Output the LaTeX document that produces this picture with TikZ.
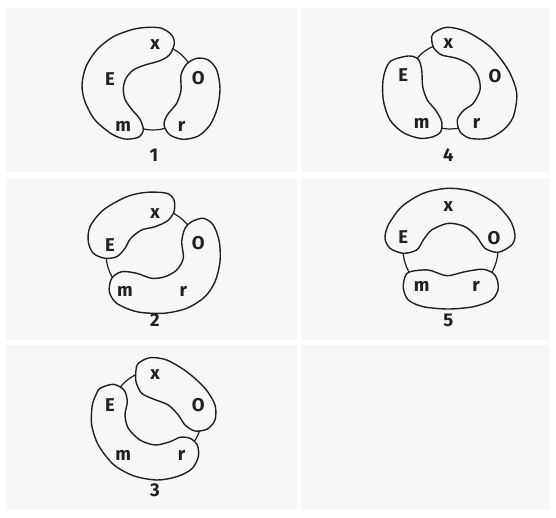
\documentclass[tikz,border=0pt]{standalone}
\usepackage{fontspec}
\setmainfont{Fira Sans}
\definecolor{ink}{HTML}{202020}
\definecolor{paper}{HTML}{F7F7F7}
\begin{document}
\begin{tikzpicture}[x=1pt,y=-1pt,
  blob/.style={draw=ink, fill=paper, line width=1.4pt, line join=round},
  ring/.style={draw=ink, line width=1.2pt},
  lab/.style={font=\fontsize{18.5}{18.5}\selectfont\bfseries, text=ink, inner sep=0pt},
  num/.style={font=\fontsize{18.5}{18.5}\selectfont\bfseries, text=ink, inner sep=0pt}]
\useasboundingbox (0,0) rectangle (556,518);
\fill[white] (0,0) rectangle (556,518);
% faint panels
\fill[paper] (6,8) rectangle (297,172);
\fill[paper] (301,8) rectangle (550,172);
\fill[paper] (6,178) rectangle (297,340);
\fill[paper] (301,178) rectangle (550,340);
\fill[paper] (6,345) rectangle (297,510);
\fill[paper] (301,345) rectangle (550,510);

% ---------- Diagram 1 ----------
\draw[ring] (153,87) circle[radius=43];
\draw[blob] plot[smooth cycle] coordinates {
 (161.7,28.3) (171.7,35) (174.3,44) (169.3,55) (160,60.7) (145,65) (133.3,70)
 (126,78.3) (123.3,88.3) (125,99.3) (131.7,109.3) (140,119.3) (143.3,130)
 (138.3,137.3) (125,139) (111.7,134) (95,120) (85,101.7) (82,85) (86,66.7)
 (96.7,50) (113.3,36.7) (133.3,29.3) (148.3,27.3)};
\draw[blob] plot[smooth cycle] coordinates {
 (186.7,64) (196.7,58.3) (208.3,60) (216.7,70) (220,88.3) (217.3,108.3)
 (210,125) (198.3,136) (183.3,139.3) (170,135) (164,125) (167.3,115)
 (176.7,103.3) (181,90) (181,75)};
\node[lab] (x1) at (155,45) {x};
\node[lab] (E1) at (110,79.3) {E};
\node[lab] (O1) at (198.3,78.3) {O};
\node[lab] (m1) at (123.3,126) {m};
\node[lab] (r1) at (181.7,126) {r};
\node[num] (n1) at (154,155) {1};

% ---------- Diagram 4 ----------
\draw[ring] (450,86) circle[radius=43];
\draw[blob] plot[smooth cycle] coordinates {
 (390,61.7) (408.3,56) (418.3,59.3) (421.7,70) (422.7,86.7) (427.3,100)
 (436,110.7) (441.7,121.7) (440.7,131.7) (433.3,136.7) (420,138.3)
 (403.3,132.7) (390,120) (383.3,100) (383.3,78.3)};
\draw[blob] plot[smooth cycle] coordinates {
 (433.3,33.3) (446.7,27.3) (466.7,31.7) (490,46.7) (508.3,70) (516.7,93.3)
 (513.3,116.7) (503.3,130) (488.3,138.3) (470,138.3) (460,131.7) (457.3,120)
 (463.3,110.7) (473.3,103.3) (480,90) (478.3,76.7) (470,65) (456.7,58.3)
 (441.7,55) (434,48.3) (431.7,40)};
\node[lab] (x4) at (448.3,44) {x};
\node[lab] (E4) at (403.3,75) {E};
\node[lab] (O4) at (495,76) {O};
\node[lab] (m4) at (421.7,123.3) {m};
\node[lab] (r4) at (476.7,123.3) {r};
\node[num] (n4) at (448.3,155) {4};

% ---------- Diagram 2 ----------
\draw[ring] (152,254) circle[radius=46];
\draw[blob] plot[smooth cycle] coordinates {
 (166.7,193.3) (146.7,192.3) (126.7,196.7) (103.3,210) (90,226.7) (88.3,241.7)
 (93.3,253.3) (105,258.3) (116.7,256.7) (125,248.3) (130.7,238.3) (141.7,230)
 (155,226.7) (167.3,221) (174,211.7) (174,200)};
\draw[blob] plot[smooth cycle] coordinates {
 (191.7,221.7) (203.3,218.3) (213.3,225) (219.3,241.7) (220,261.7) (215,281.7)
 (205,296.7) (186.7,308.3) (163.3,313.3) (136.7,311.7) (116.7,303.3)
 (109.3,291.7) (111.7,278.3) (121.7,271.7) (136.7,273.3) (151.7,278.3)
 (165,276.7) (176.7,270) (183.3,258.3) (181.7,241.7) (185,228.3)};
\node[lab] (x2) at (155,213.3) {x};
\node[lab] (E2) at (110,245) {E};
\node[lab] (O2) at (198.3,243.3) {O};
\node[lab] (m2) at (125,291.7) {m};
\node[lab] (r2) at (183.3,291.7) {r};
\node[num] (n2) at (155,320) {2};

% ---------- Diagram 5 ----------
\draw[ring] (450.5,249) circle[radius=47.5];
\draw[blob] plot[smooth cycle] coordinates {
 (448.3,188.3) (423.3,193.3) (401.7,206.7) (388.3,225) (385,238.3) (390,248.3)
 (403.3,253.3) (416.7,250) (423.3,240) (431.7,230) (448.3,223.3) (465,226.7)
 (476.7,236.7) (485,248.3) (498.3,252.3) (511.7,245) (515,235) (510,220)
 (495,203.3) (473.3,191.7)};
\draw[blob] plot[smooth cycle] coordinates {
 (410,271.7) (428.3,270) (446.7,275.7) (465,271.7) (483.3,269.3) (495,275)
 (498.3,288.3) (491.7,300) (473.3,306.7) (448.3,309) (423.3,306.7)
 (408.3,300) (403.3,288.3) (405,276.7)};
\node[lab] (x5) at (448.3,206.7) {x};
\node[lab] (E5) at (403.3,236.7) {E};
\node[lab] (O5) at (494,238.3) {O};
\node[lab] (m5) at (421.7,286.7) {m};
\node[lab] (r5) at (476,286.7) {r};
\node[num] (n5) at (448.3,320) {5};

% ---------- Diagram 3 ----------
\draw[ring] (156,416) circle[radius=46];
\draw[blob] plot[smooth cycle] coordinates {
 (138.3,363.3) (150,357.7) (166.7,360) (186.7,371.7) (205,388.3) (215,405)
 (215,420) (207.3,429) (195,431) (185,425) (178.3,415) (168.3,405)
 (153.3,399) (141.7,393.3) (136,381.7) (136,370)};
\draw[blob] plot[smooth cycle] coordinates {
 (100,388.3) (113.3,384.3) (124,390) (127.3,401.7) (125,415) (128.3,428.3)
 (140,440) (155,445) (170,441.7) (180,437.3) (190,438.3) (197.3,445)
 (198.3,456.7) (191.7,469) (176.7,476.7) (156.7,480) (133.3,475.7)
 (113.3,464.3) (98.3,445) (91.7,425) (92.3,405) (96.7,393.3)};
\node[lab] (x3) at (155,375) {x};
\node[lab] (E3) at (110,405) {E};
\node[lab] (O3) at (198.3,405) {O};
\node[lab] (m3) at (123.3,455) {m};
\node[lab] (r3) at (181.7,455) {r};
\node[num] (n3) at (155,490) {3};
\end{tikzpicture}
\end{document}
